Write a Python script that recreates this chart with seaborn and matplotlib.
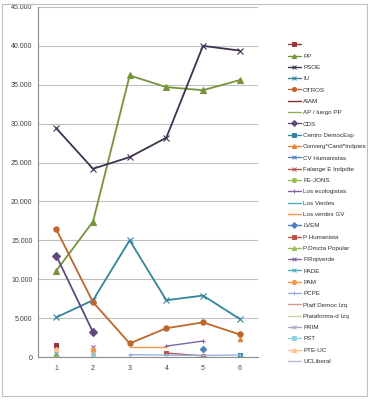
import numpy as np
import pandas as pd
import matplotlib
matplotlib.use("Agg")
import matplotlib.pyplot as plt
from matplotlib.lines import Line2D
from matplotlib.patches import Rectangle
from matplotlib.ticker import FuncFormatter
import seaborn as sns

nan = np.nan

# categorias (eje x)
x = [1, 2, 3, 4, 5, 6]

# series principales
sin_nombre = [1500, nan, nan, nan, nan, nan]
pp = [11100, 17400, 36200, 34700, 34300, 35600]
psoe = [29400, 24200, 25700, 28200, 40000, 39400]
iu = [5100, 7300, 15000, 7300, 7900, 4900]
otros = [16400, 7050, 1750, 3700, 4450, 2900]
aiam = [nan] * 6
ap_pp = [nan] * 6
cds = [13000, 3200, nan, nan, nan, nan]
centro = [nan, nan, nan, nan, nan, 300]
converg = [nan, nan, nan, nan, nan, 2300]
cv_human = [nan, 100, nan, nan, nan, nan]
falange = [900, nan, nan, nan, nan, nan]
fe_jons = [100, nan, nan, nan, nan, nan]
ecologistas = [nan, nan, nan, 1400, 2050, nan]
verdes = [nan] * 6
verdes_gv = [nan, nan, 1300, 1300, nan, nan]
lvem = [nan, nan, nan, nan, 1000, nan]
p_human = [nan, nan, nan, 500, 150, nan]
p_dmcta = [200, nan, nan, nan, nan, nan]
rojiverde = [nan, 1250, nan, nan, nan, nan]
pade = [500, nan, nan, nan, nan, nan]
pam = [nan, 900, nan, nan, nan, nan]
pcpe = [nan, nan, 300, 250, 200, 250]
platf = [nan] * 6
plataforma = [nan] * 6
prim = [nan, nan, nan, nan, 100, nan]
pst = [nan, 300, nan, nan, nan, nan]
pte_uc = [1000, nan, nan, nan, nan, nan]
ucliberal = [nan] * 6

series = [
    ("", sin_nombre), ("PP", pp), ("PSOE", psoe), ("IU", iu), ("OTROS", otros),
    ("AIAM", aiam), ("AP / luego PP", ap_pp), ("CDS", cds),
    ("Centro DemocEsp", centro), ("Converg*Cand*Indptes", converg),
    ("CV Humanistas", cv_human), ("Falange E Indpdte", falange),
    ("FE-JONS", fe_jons), ("Los ecologistas", ecologistas),
    ("Los Verdes", verdes), ("Los verdes GV", verdes_gv), ("LVEM", lvem),
    ("P Humanista", p_human), ("P.Dmcta Popular", p_dmcta),
    ("P.Rojiverde", rojiverde), ("PADE", pade), ("PAM", pam), ("PCPE", pcpe),
    ("Platf Democ Izq", platf), ("Plataforma-d Izq", plataforma),
    ("PRIM", prim), ("PST", pst), ("PTE-UC", pte_uc), ("UCLiberal", ucliberal),
]

# estilo tipo Excel 2007
estilos = [
    ("#953735", "s"), ("#77933C", "^"), ("#403151", "x"), ("#31859C", "x"),
    ("#C0662A", "o"), ("#8B2E2B", None), ("#8EB04A", None), ("#604A7B", "D"),
    ("#31859C", "s"), ("#E8822F", "^"), ("#4F81BD", "x"), ("#C0504D", "x"),
    ("#9BBB59", "o"), ("#8064A2", "+"), ("#4BACC6", None), ("#F79646", None),
    ("#4F81BD", "D"), ("#C0504D", "s"), ("#9BBB59", "^"), ("#8064A2", "x"),
    ("#4BACC6", "x"), ("#F79646", "o"), ("#95B3D7", "+"), ("#D99694", None),
    ("#C3D69B", None), ("#B3A2C7", "x"), ("#93CDDD", "s"), ("#FAC090", "^"),
    ("#B7B9E0", None),
]

sns.set_style("white")
plt.rcParams["font.family"] = ["Liberation Sans", "DejaVu Sans"]

fig = plt.figure(figsize=(3.7, 4.0), dpi=100)
ax = fig.add_axes([38 / 370, 1 - 357 / 400, 220 / 370, 350 / 400])

handles = []
for (nombre, vals), (color, marker) in zip(series, estilos):
    df = pd.DataFrame({"x": x, "y": vals}).dropna()
    principal = nombre in ("PP", "PSOE", "IU", "OTROS", "CDS")
    lw = 1.3 if principal else 1.0
    ms = 3.8 if principal else 3.2
    if len(df) > 0:
        sns.lineplot(data=df, x="x", y="y", ax=ax, color=color, lw=lw,
                     marker=marker if marker else None, markersize=ms,
                     markeredgecolor=color, markeredgewidth=0.8, legend=False)
    handles.append(Line2D([0], [0], color=color, lw=1.0,
                          marker=marker if marker else None, markersize=3,
                          markeredgecolor=color, markeredgewidth=0.7,
                          label=nombre))

ax.set_xlim(0.5, 6.5)
ax.set_ylim(0, 45000)
ax.set_yticks(np.arange(0, 45001, 5000))
ax.yaxis.set_major_formatter(
    FuncFormatter(lambda v, p: "0" if v == 0 else f"{int(v):,}".replace(",", ".")))
ax.set_xticks(x)
ax.set_xticks(np.arange(0.5, 6.6, 1), minor=True)
ax.set_xlabel("")
ax.set_ylabel("")
ax.grid(axis="y", color="#bfbfbf", lw=0.8)
ax.set_axisbelow(True)
for s in ("top", "right"):
    ax.spines[s].set_visible(False)
for s in ("left", "bottom"):
    ax.spines[s].set_color("#8c8c8c")
    ax.spines[s].set_linewidth(0.8)
ax.tick_params(axis="y", which="both", length=0, labelsize=5, colors="#404040", pad=4)
ax.tick_params(axis="x", which="major", length=0, labelsize=5, colors="#404040", pad=6)
ax.tick_params(axis="x", which="minor", length=3, color="#8c8c8c", width=0.8, direction="out")

fig.legend(handles=handles, loc="upper left", bbox_to_anchor=(288 / 370, 1 - 42 / 400),
           frameon=False, fontsize=4.5, labelspacing=0.95, handlelength=2.0,
           handletextpad=0.4, borderaxespad=0, borderpad=0, labelcolor="#303030")

fig.patches.append(Rectangle((2 / 370, 4 / 400), 365 / 370, 392 / 400,
                             transform=fig.transFigure, fill=False,
                             edgecolor="#bfbfbf", lw=0.8))

fig.savefig("out.png", dpi=100)
